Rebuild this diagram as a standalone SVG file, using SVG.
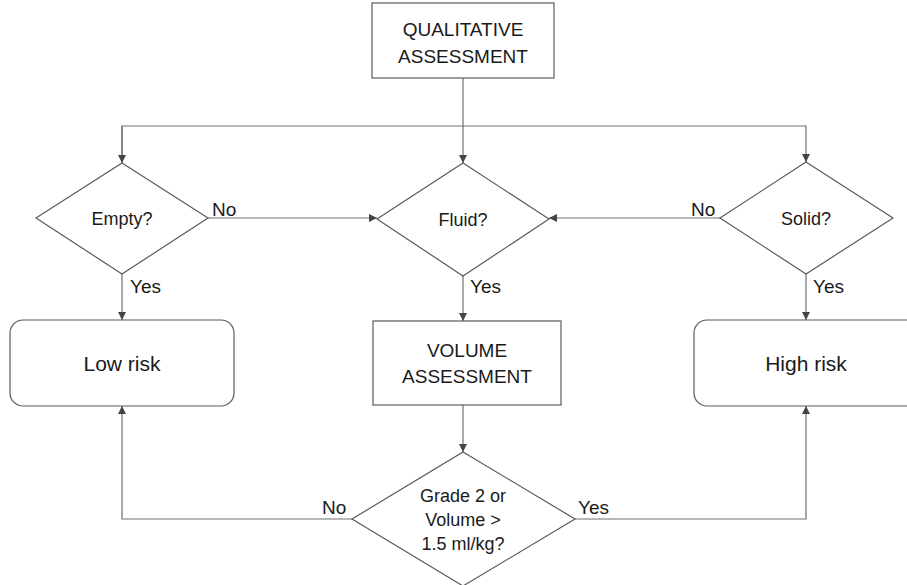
<svg xmlns="http://www.w3.org/2000/svg" width="907" height="585" viewBox="0 0 907 585">
<style>
.shape{fill:#ffffff;stroke:#5a5a5a;stroke-width:1.2}
.conn{fill:none;stroke:#707070;stroke-width:1.2}
text{font-family:"Liberation Sans",Arial,sans-serif;fill:#1a1a1a;text-anchor:middle}
.box{font-size:19px}
.risk{font-size:21px}
.dia{font-size:18px}
.lbl{font-size:19px;text-anchor:start}
</style>
<defs>
<marker id="arr" viewBox="0 0 10 10" refX="10" refY="5" markerWidth="8" markerHeight="8" markerUnits="userSpaceOnUse" orient="auto">
<path d="M0,0 L10,5 L0,10 z" fill="#444444"/>
</marker>
</defs>
<rect width="907" height="585" fill="#ffffff"/>
<g id="connectors">
<path class="conn" d="M463,78 V163" marker-end="url(#arr)"/>
<path class="conn" d="M122,163 V126 H806 V162" marker-end="url(#arr)"/>
<path class="conn" d="M122,126 V163" marker-end="url(#arr)"/>
<path class="conn" d="M208,218 H377" marker-end="url(#arr)"/>
<path class="conn" d="M720,218 H549" marker-end="url(#arr)"/>
<path class="conn" d="M122,274 V320" marker-end="url(#arr)"/>
<path class="conn" d="M463,276 V321" marker-end="url(#arr)"/>
<path class="conn" d="M806,274 V320" marker-end="url(#arr)"/>
<path class="conn" d="M463,405 V452" marker-end="url(#arr)"/>
<path class="conn" d="M352,519 H122 V406" marker-end="url(#arr)"/>
<path class="conn" d="M575,519 H806 V406" marker-end="url(#arr)"/>
<text class="lbl" x="212" y="216">No</text>
<text class="lbl" x="691" y="216">No</text>
<text class="lbl" x="130" y="293">Yes</text>
<text class="lbl" x="470" y="293">Yes</text>
<text class="lbl" x="813" y="293">Yes</text>
<text class="lbl" x="322" y="514">No</text>
<text class="lbl" x="578" y="514">Yes</text>
</g>
<g id="qualitative">
<rect class="shape" x="372" y="3" width="182" height="75"/>
<text class="box" x="463" y="36">QUALITATIVE</text>
<text class="box" x="463" y="63">ASSESSMENT</text>
</g>
<g id="empty">
<polygon class="shape" points="122,163 208,218 122,274 36,218"/>
<text class="dia" x="122" y="225">Empty?</text>
</g>
<g id="fluid">
<polygon class="shape" points="463,163 549,219 463,276 377,219"/>
<text class="dia" x="463" y="226">Fluid?</text>
</g>
<g id="solid">
<polygon class="shape" points="806,162 893,218 806,274 720,218"/>
<text class="dia" x="806" y="225">Solid?</text>
</g>
<g id="lowrisk">
<rect class="shape" x="10" y="320" width="224" height="86" rx="13"/>
<text class="risk" x="122" y="371">Low risk</text>
</g>
<g id="volume">
<rect class="shape" x="373" y="321" width="188" height="84"/>
<text class="box" x="467" y="357">VOLUME</text>
<text class="box" x="467" y="383">ASSESSMENT</text>
</g>
<g id="highrisk">
<rect class="shape" x="694" y="320" width="226" height="86" rx="13"/>
<text class="risk" x="806" y="371">High risk</text>
</g>
<g id="grade">
<polygon class="shape" points="463,452 575,519 463,586 352,519"/>
<text class="dia" x="463" y="502">Grade 2 or</text>
<text class="dia" x="463" y="526">Volume &gt;</text>
<text class="dia" x="463" y="550">1.5 ml/kg?</text>
</g>
</svg>
